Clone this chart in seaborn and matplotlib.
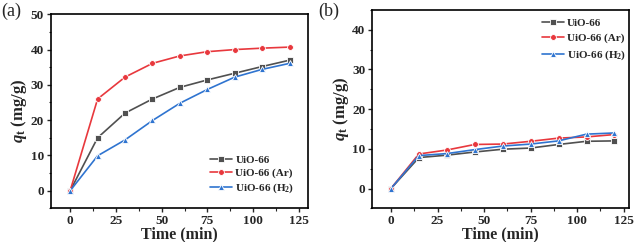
import numpy as np
import pandas as pd
import matplotlib
matplotlib.use("Agg")
import matplotlib.pyplot as plt
import seaborn as sns
from matplotlib.ticker import MultipleLocator, AutoMinorLocator

time = [0, 15, 30, 45, 60, 75, 90, 105, 120]
series_names = ["UiO-66", "UiO-66 (Ar)", "UiO-66 (H$_2$)"]

a_uio = [0, 15.0, 22.0, 26.0, 29.3, 31.4, 33.3, 35.2, 37.0]
a_ar = [0, 26.0, 32.2, 36.1, 38.2, 39.4, 40.0, 40.4, 40.7]
a_h2 = [0, 9.9, 14.4, 19.9, 24.8, 28.7, 32.2, 34.4, 36.1]

b_uio = [0, 7.8, 8.4, 9.2, 9.9, 10.2, 11.1, 11.9, 12.0]
b_ar = [0, 8.7, 9.7, 11.1, 11.2, 11.9, 12.7, 13.0, 13.6]
b_h2 = [0, 8.3, 8.8, 9.8, 10.7, 11.2, 12.0, 13.7, 14.0]

colors = ["#505050", "#e8383d", "#2f74d0"]
markers = ["s", "o", "^"]

sns.set_theme(style="ticks")
plt.rcParams["font.family"] = ["Liberation Serif", "DejaVu Serif"]
plt.rcParams["mathtext.fontset"] = "custom"
plt.rcParams["mathtext.rm"] = "Liberation Serif:bold"
plt.rcParams["mathtext.it"] = "Liberation Serif:italic:bold"
plt.rcParams["mathtext.bf"] = "Liberation Serif:bold"


def make_df(vals):
    rows = []
    for name, v in zip(series_names, vals):
        for t, q in zip(time, v):
            rows.append({"t": t, "q": q, "s": name})
    return pd.DataFrame(rows)


fig = plt.figure(figsize=(6.37, 2.42), dpi=100)
ax1 = fig.add_axes([0.080, 0.139, 0.4035, 0.802])
ax2 = fig.add_axes([0.5845, 0.139, 0.4035, 0.820])

panels = [
    (ax1, make_df([a_uio, a_ar, a_h2]), (-10.5, 130), (-5, 50), "lower right", "(a)"),
    (ax2, make_df([b_uio, b_ar, b_h2]), (-10, 128), (-5, 45), "upper right", "(b)"),
]

for ax, df, xl, yl, loc, tag in panels:
    sns.lineplot(data=df, x="t", y="q", hue="s", style="s",
                 palette=dict(zip(series_names, colors)),
                 markers=dict(zip(series_names, markers)),
                 dashes=False, markersize=4.2, linewidth=1.2,
                 markeredgewidth=0.6, ax=ax)
    ax.set_xlim(*xl)
    ax.set_ylim(*yl)
    ax.xaxis.set_major_locator(MultipleLocator(25))
    ax.xaxis.set_minor_locator(AutoMinorLocator(2))
    ax.yaxis.set_major_locator(MultipleLocator(10))
    ax.yaxis.set_minor_locator(AutoMinorLocator(2))
    ax.tick_params(axis="both", which="major", direction="out", length=3,
                   width=1.0, labelsize=9.5, pad=2)
    ax.tick_params(axis="both", which="minor", direction="out", length=1.8, width=0.8)
    for lab in ax.get_xticklabels() + ax.get_yticklabels():
        lab.set_fontweight("bold")
    for sp in ax.spines.values():
        sp.set_visible(True)
        sp.set_linewidth(1.2)
        sp.set_color("black")
    ax.set_xlabel("Time (min)", fontsize=11.5, fontweight="bold", labelpad=-1)
    ax.set_ylabel(r"$q_{\mathbf{t}}$ (mg/g)", fontsize=12, fontweight="bold", labelpad=1)
    if loc == "lower right":
        ax.legend(loc=loc, frameon=False, handlelength=2.0,
                  handletextpad=0.3, labelspacing=0.3, borderaxespad=0.8,
                  prop={"weight": "bold", "size": 8})
    else:
        ax.legend(loc=loc, bbox_to_anchor=(1.01, 0.985), frameon=False, handlelength=2.0,
                  handletextpad=0.3, labelspacing=0.45, borderaxespad=0.1,
                  prop={"weight": "bold", "size": 8})

fig.text(0.002, 0.99, "(a)", fontsize=13, ha="left", va="top")
fig.text(0.500, 0.99, "(b)", fontsize=13, ha="left", va="top")

fig.savefig("out.png", dpi=100)
